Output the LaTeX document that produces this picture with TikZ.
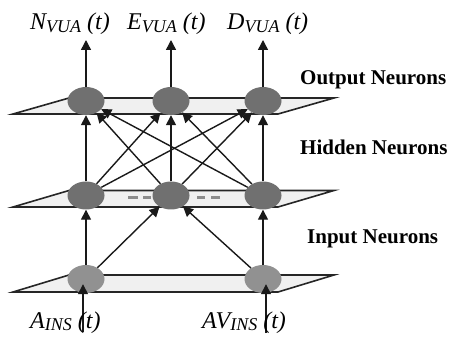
\documentclass[tikz,border=0pt]{standalone}
\usepackage{fontspec}
\setmainfont{Liberation Serif}
\usetikzlibrary{shapes.geometric,arrows.meta}
\definecolor{neuron}{RGB}{112,112,112}
\definecolor{inneuron}{RGB}{145,145,145}
\definecolor{plane}{RGB}{240,240,240}
\definecolor{dashgray}{RGB}{140,140,140}
\newcommand{\lbl}[2]{{\fontsize{24}{28}\selectfont\itshape #1\raisebox{-0.12em}{\fontsize{18}{20}\selectfont #2} (t)}}
\begin{document}
\begin{tikzpicture}[x=1pt,y=-1pt,
  layer/.style={draw=black!85,line width=1.6pt,fill=plane,line join=miter},
  neuronnode/.style={ellipse,fill=neuron,draw=none,minimum width=37pt,minimum height=28pt,inner sep=0pt},
  inputnode/.style={neuronnode,fill=inneuron},
  conn/.style={draw=black!90,line width=1.4pt,-{Triangle[width=10pt,length=10pt]}},
  layertext/.style={font=\fontsize{21}{24}\selectfont\bfseries,anchor=base west,inner sep=0pt},
  iolabel/.style={anchor=base west,inner sep=0pt},
  dashseg/.style={draw=dashgray,line width=3pt}
]
\useasboundingbox (0,0) rectangle (449,347);
% layer planes
\draw[layer] (13,114) -- (278,114) -- (334,98) -- (69,98) -- cycle;
\draw[layer] (13,207) -- (278,207) -- (334,190.5) -- (69,190.5) -- cycle;
\draw[layer] (13,292) -- (278,292) -- (334,275) -- (69,275) -- cycle;
% dashes in hidden layer
\draw[dashseg] (128,198) -- (138,198);
\draw[dashseg] (143,198) -- (151,198);
\draw[dashseg] (197,198) -- (205,198);
\draw[dashseg] (211,198) -- (220,198);
% neurons
\node[neuronnode] (o1) at (86,101) {};
\node[neuronnode] (o2) at (171,101) {};
\node[neuronnode] (o3) at (263,101) {};
\node[neuronnode] (h1) at (86,195.5) {};
\node[neuronnode] (h2) at (171,195.5) {};
\node[neuronnode] (h3) at (263,195.5) {};
\node[inputnode] (i1) at (86,279) {};
\node[inputnode] (i2) at (263,279) {};
% free ends
\coordinate (t1) at (86,40);
\coordinate (t2) at (171,40);
\coordinate (t3) at (263,40);
\coordinate (b1) at (83,332);
\coordinate (b2) at (266,333);
% input to input neurons
\draw[conn] (b1) -- ([xshift=-3pt,yshift=9pt]i1.south);
\draw[conn] (b2) -- ([xshift=3pt,yshift=9pt]i2.south);
% input to hidden
\draw[conn] (i1) -- (h1);
\draw[conn] (i1) -- (h2);
\draw[conn] (i2) -- (h2);
\draw[conn] (i2) -- (h3);
% hidden to output
\foreach \a in {h1,h2,h3}{
  \foreach \b in {o1,o2,o3}{
    \draw[conn] (\a) -- (\b);
  }
}
% outputs
\draw[conn] (o1) -- (t1);
\draw[conn] (o2) -- (t2);
\draw[conn] (o3) -- (t3);
% labels
\node[iolabel] (ln) at (30,30) {\lbl{N}{VUA}};
\node[iolabel] (le) at (127,30) {\lbl{E}{VUA}};
\node[iolabel] (ld) at (227,30) {\lbl{D}{VUA}};
\node[iolabel] (la) at (30,328) {\lbl{A}{INS}};
\node[iolabel] (lav) at (202,328) {\lbl{AV}{INS}};
\node[layertext] (lo) at (300,85) {Output Neurons};
\node[layertext] (lh) at (300,155) {Hidden Neurons};
\node[layertext] (li) at (307,243) {Input Neurons};
\end{tikzpicture}
\end{document}
